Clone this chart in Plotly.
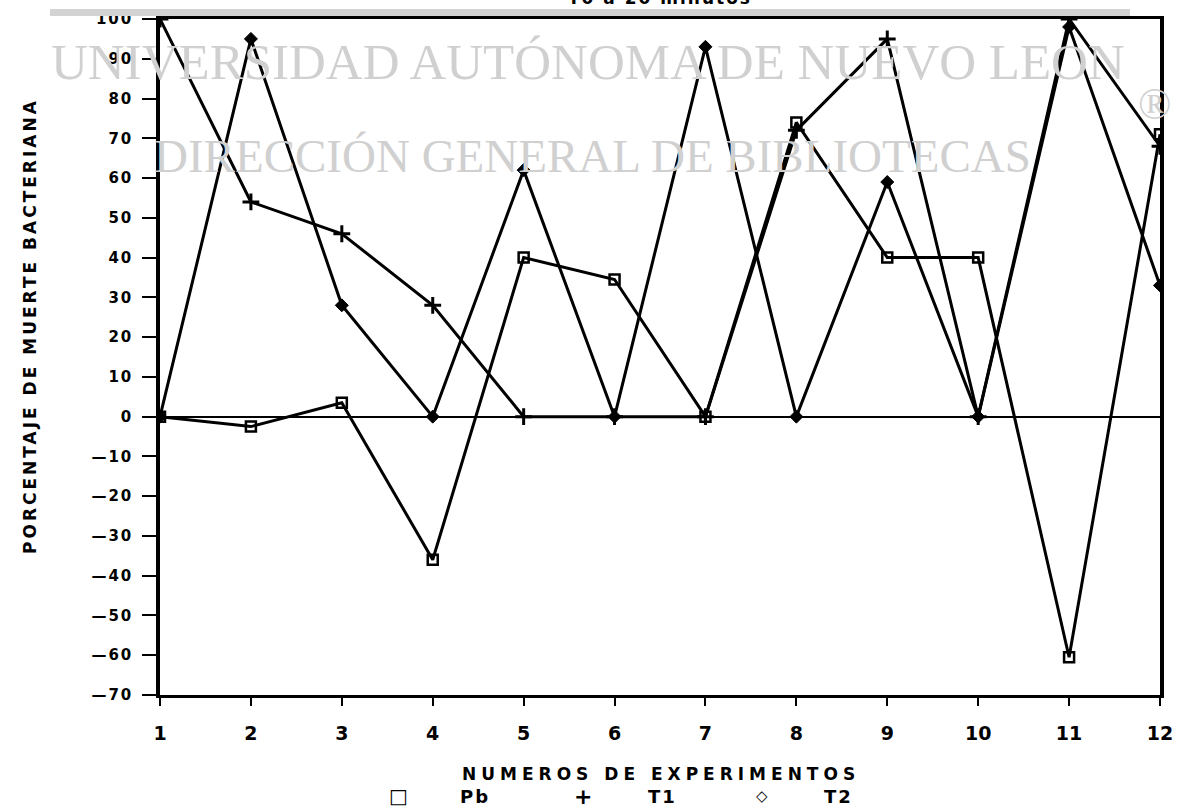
import plotly.graph_objects as go

# Porcentaje de muerte bacteriana por experimento
experimentos = list(range(1, 13))
pb = [0, -2.5, 3.5, -36, 40, 34.5, 0, 74, 40, 40, -60.5, 71]
t1 = [100, 54, 46, 28, 0, 0, 0, 72, 95, 0, 100, 68]
t2 = [0, 95, 28, 0, 62, 0, 93, 0, 59, 0, 98, 33]

y_ticks = list(range(-70, 101, 10))
y_tick_labels = [("—" + str(-v)) if v < 0 else str(v) for v in y_ticks]
x_tick_labels = [str(v) for v in experimentos]

W, H = 1188, 811
L, R, T, B = 160, 28, 19, 116
PW, PH = W - L - R, H - T - B


def spaced(text, px):
    return f'<span style="letter-spacing:{px}px">{text}</span>'


def px_x(px):
    return (px - L) / PW


def px_y(py):
    return (H - B - py) / PH


fig = go.Figure()

series = [
    ("Pb", pb, dict(symbol="square-open", size=10, color="black", line=dict(width=2.5, color="black"))),
    ("T1", t1, dict(symbol="cross-thin", size=12, color="black", line=dict(width=3, color="black"))),
    ("T2", t2, dict(symbol="diamond", size=10, color="black", line=dict(width=1, color="black"))),
]
for name, vals, mk in series:
    fig.add_trace(go.Scatter(
        x=experimentos, y=vals, name=name, mode="lines+markers",
        line=dict(color="black", width=3), marker=mk, showlegend=False,
    ))

tick_font = dict(family="DejaVu Sans", size=15, color="black", weight="bold")

fig.update_xaxes(
    range=[1, 12], tickmode="array", tickvals=experimentos,
    ticktext=[f"<b>{t}</b>" for t in x_tick_labels],
    ticks="outside", ticklen=8, tickwidth=2, tickcolor="black",
    showline=True, linewidth=2.5, linecolor="black", mirror=True,
    showgrid=False, zeroline=False, ticklabelstandoff=11,
    tickfont=dict(family="Liberation Sans Narrow, DejaVu Sans", size=19, color="black"),
)
fig.update_yaxes(
    range=[-70, 100], tickmode="array", tickvals=y_ticks,
    ticktext=[spaced(f"<b>{t}</b>", 2) for t in y_tick_labels],
    ticks="outside", ticklen=14, tickwidth=2, tickcolor="black",
    showline=True, linewidth=3.5, linecolor="black", mirror=True,
    showgrid=False, zeroline=True, zerolinecolor="black", zerolinewidth=1.5,
    ticklabelstandoff=6, tickfont=tick_font,
)

label_font = dict(family="DejaVu Sans", size=17, color="black", weight="bold")
legend_font = dict(family="DejaVu Sans", size=18, color="black", weight="bold")
annotations = [
    # titulo (parcialmente fuera de la pagina)
    dict(text=spaced("T0 a 20 minutos", 2), x=px_x(660), y=px_y(10), xanchor="center", yanchor="bottom",
         font=label_font),
    dict(text=spaced("NUMEROS DE EXPERIMENTOS", 5), x=px_x(661), y=px_y(774), xanchor="center", yanchor="middle",
         font=label_font),
    dict(text=spaced("PORCENTAJE DE MUERTE BACTERIANA", 3), x=px_x(30), y=px_y(326), xanchor="center",
         yanchor="middle", textangle=-90, font=label_font),
    # leyenda
    dict(text="□", x=px_x(398), y=px_y(796), xanchor="center", yanchor="middle",
         font=dict(family="DejaVu Sans", size=20, color="black", weight="bold")),
    dict(text=spaced("Pb", 2), x=px_x(475), y=px_y(796), xanchor="center", yanchor="middle", font=legend_font),
    dict(text="+", x=px_x(583), y=px_y(796), xanchor="center", yanchor="middle",
         font=dict(family="DejaVu Sans", size=22, color="black", weight="bold")),
    dict(text=spaced("T1", 2), x=px_x(662), y=px_y(796), xanchor="center", yanchor="middle", font=legend_font),
    dict(text="◇", x=px_x(762), y=px_y(796), xanchor="center", yanchor="middle",
         font=dict(family="DejaVu Sans", size=15, color="black", weight="bold")),
    dict(text=spaced("T2", 2), x=px_x(838), y=px_y(796), xanchor="center", yanchor="middle", font=legend_font),
    # sello de la biblioteca
    dict(text="UNIVERSIDAD AUTÓNOMA DE NUEVO LEON", x=px_x(588), y=px_y(62), xanchor="center", yanchor="middle",
         font=dict(family="Liberation Serif", size=51, color="#d0d0d0")),
    dict(text="DIRECCIÓN GENERAL DE BIBLIOTECAS", x=px_x(592), y=px_y(156), xanchor="center", yanchor="middle",
         font=dict(family="Liberation Serif", size=47, color="#d0d0d0")),
    dict(text="®", x=px_x(1154), y=px_y(105), xanchor="center", yanchor="middle",
         font=dict(family="Liberation Serif", size=44, color="#d0d0d0")),
]
for a in annotations:
    a.update(xref="paper", yref="paper", showarrow=False)

fig.update_layout(
    width=W, height=H, margin=dict(l=L, r=R, t=T, b=B, autoexpand=False),
    paper_bgcolor="white", plot_bgcolor="white",
    annotations=annotations,
    shapes=[dict(type="rect", xref="paper", yref="paper", x0=px_x(50), x1=px_x(1130),
                 y0=px_y(16), y1=px_y(9), fillcolor="#d3d3d3", line=dict(width=0), layer="above")],
)

fig.write_html("out.html")
